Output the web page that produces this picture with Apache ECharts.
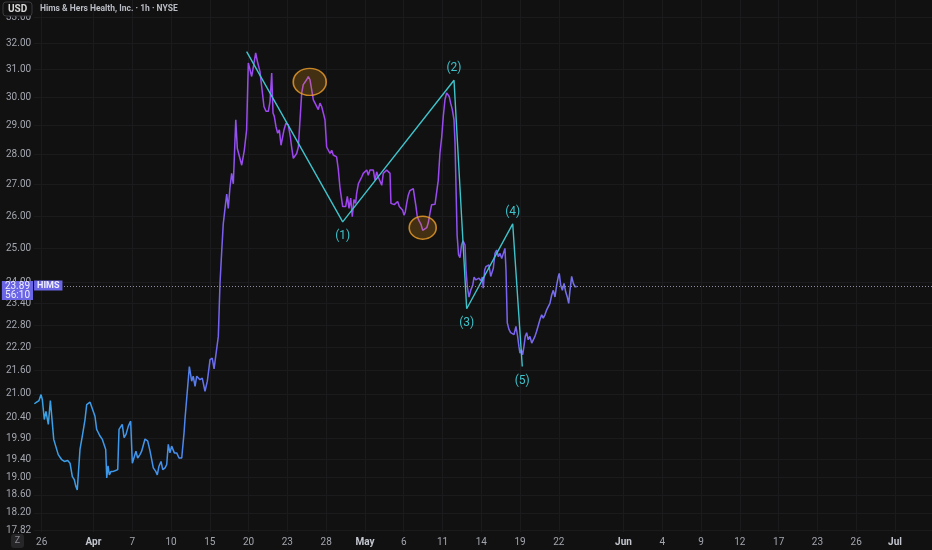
<!DOCTYPE html>
<html>
<head>
<meta charset="utf-8">
<script src="https://cdn.jsdelivr.net/npm/echarts@6/dist/echarts.min.js"></script>
<style>
html,body{margin:0;padding:0;background:#111111;}
#chart{width:932px;height:550px;}
</style>
</head>
<body>
<div id="chart"></div>
<script>
// ---- data ----
const xLabelIdx = [0,4,7,10,13,16,19,22,25,28,31,34,37,40,45,48,51,54,57,60,63,66];
const xLabelText = ['26','Apr','7','10','15','20','23','28','May','6','11','14','19','22','Jun','4','9','12','17','23','26','Jul'];
const yTicks = [33,32,31,30,29,28,27,26,25,24,23.4,22.8,22.2,21.6,21,20.4,19.9,19.4,19,18.6,18.2,17.82];

const priceX = [-0.57,-0.39,-0.21,-0.05,0.05,0.20,0.33,0.43,0.51,0.67,0.82,0.93,1.08,1.28,1.55,1.75,2.01,2.19,2.37,2.52,2.63,2.75,2.83,2.96,3.14,3.35,3.48,3.74,3.87,4.12,4.25,4.38,4.51,4.69,4.84,4.95,5.03,5.13,5.23,5.36,5.54,5.72,5.88,5.98,6.11,6.23,6.37,6.52,6.70,6.88,7.01,7.16,7.29,7.42,7.60,7.73,7.86,7.99,8.20,8.38,8.63,8.82,8.94,9.07,9.23,9.36,9.54,9.67,9.79,9.92,10.05,10.15,10.26,10.44,10.62,10.83,11.01,11.08,11.42,11.60,11.72,11.86,11.99,12.24,12.42,12.63,12.81,13.02,13.19,13.33,13.48,13.66,13.79,13.92,14.04,14.18,14.31,14.43,14.56,14.69,14.82,14.90,15.01,15.13,15.26,15.47,15.67,15.85,15.98,16.11,16.24,16.42,16.55,16.71,16.88,17.01,17.19,17.35,17.53,17.66,17.79,17.89,17.99,18.12,18.25,18.38,18.51,18.61,18.74,18.89,19.07,19.23,19.33,19.46,19.59,19.72,19.85,19.98,20.11,20.23,20.36,20.49,20.62,20.75,20.88,21.01,21.14,21.27,21.39,21.52,21.65,21.78,21.91,22.04,22.17,22.30,22.43,22.55,22.68,22.81,22.94,23.07,23.20,23.28,23.38,23.51,23.64,23.77,23.90,24.02,24.15,24.28,24.36,24.49,24.62,24.75,24.87,25.00,25.14,25.26,25.39,25.52,25.65,25.78,25.91,26.03,26.16,26.30,26.42,26.55,26.68,26.81,26.94,27.01,27.15,27.27,27.40,27.53,27.66,27.79,27.92,28.02,28.12,28.23,28.35,28.48,28.62,28.74,28.87,28.95,29.05,29.20,29.34,29.47,29.62,29.78,29.90,30.03,30.16,30.29,30.42,30.55,30.67,30.80,30.94,31.06,31.19,31.32,31.45,31.52,31.63,31.76,31.89,31.97,32.05,32.13,32.24,32.35,32.47,32.59,32.74,32.82,32.92,33.05,33.18,33.34,33.44,33.57,33.69,33.82,33.95,34.08,34.15,34.26,34.36,34.46,34.59,34.73,34.85,34.93,35.06,35.19,35.32,35.45,35.58,35.70,35.83,35.91,36.01,36.14,36.27,36.40,36.53,36.68,36.81,36.91,36.99,37.09,37.20,37.30,37.40,37.51,37.63,37.76,37.90,38.02,38.15,38.28,38.41,38.54,38.67,38.79,38.92,39.06,39.18,39.31,39.44,39.57,39.70,39.83,39.96,40.03,40.14,40.27,40.40,40.53,40.65,40.76,40.86,40.99,41.12,41.25,41.38];
const priceY = [20.75,20.79,20.83,20.98,20.85,20.36,20.56,20.60,20.24,20.83,20.83,19.88,19.85,19.52,19.40,19.36,19.38,19.32,19.01,18.94,18.80,18.71,18.75,19.64,19.96,20.36,20.73,20.79,20.78,20.44,20.12,20.04,19.96,19.88,19.84,19.64,18.98,19.26,19.05,19.13,19.13,19.15,19.17,20.12,20.12,20.24,19.92,20.00,20.20,20.32,19.32,19.31,19.60,19.44,19.52,19.60,19.64,19.89,19.84,19.60,19.21,19.13,19.05,19.25,19.36,19.17,19.21,19.29,19.76,19.56,19.72,19.76,19.56,19.56,19.44,19.44,20.04,20.36,21.70,21.32,21.45,21.19,21.45,21.36,21.40,21.06,21.32,21.88,21.92,21.64,21.64,22.50,23.98,24.90,25.75,26.25,26.70,26.24,26.90,27.37,27.03,27.92,29.19,28.20,28.25,27.64,28.14,28.84,31.25,31.00,30.75,31.25,31.63,31.25,30.94,30.39,29.66,29.49,29.49,29.84,30.88,29.43,29.31,28.95,28.72,28.84,28.31,28.25,28.84,29.07,29.01,28.60,28.25,27.87,27.87,28.03,28.25,29.19,30.15,30.45,30.51,30.63,30.75,30.63,30.57,29.90,29.78,29.72,29.55,29.78,29.66,29.43,29.19,28.25,28.14,28.03,28.14,27.98,28.03,27.92,27.50,26.90,26.52,26.30,26.36,26.30,26.62,26.24,26.57,25.98,26.52,26.40,26.72,27.03,27.14,27.25,27.37,27.42,27.48,27.31,27.48,27.50,27.48,27.14,27.42,27.25,27.25,26.98,27.37,27.42,27.48,27.42,27.37,26.40,26.46,26.36,26.40,26.46,26.30,26.36,26.18,26.03,26.13,26.40,26.66,26.81,26.87,26.87,26.81,26.30,25.98,25.84,25.74,25.56,25.56,25.64,25.79,26.09,26.36,26.37,26.37,26.40,27.14,28.03,28.60,29.31,29.90,30.15,30.21,30.02,29.78,29.55,29.19,28.37,26.81,25.41,24.82,24.73,25.11,25.24,25.11,24.37,23.88,23.59,23.78,23.93,24.16,24.08,24.10,24.13,24.06,24.16,23.84,24.37,24.47,24.42,24.52,24.18,24.23,24.42,24.86,24.96,24.76,24.86,24.71,24.76,25.01,24.37,22.87,22.69,22.60,22.64,22.55,22.77,22.50,22.23,22.05,22.14,22.01,22.23,22.50,22.60,22.41,22.50,22.32,22.37,22.50,22.64,22.60,22.96,23.09,23.00,23.09,23.23,23.32,23.41,23.64,23.78,23.59,23.93,24.18,24.27,23.93,23.78,23.98,23.73,23.59,23.41,23.78,24.18,23.98,23.88,23.89];

const patternX = [15.85, 23.28, 31.89, 32.87, 36.43, 37.17];
const patternY = [31.68, 25.82, 30.61, 23.26, 25.76, 21.70];
const patternLabels = ['', '(1)', '(2)', '(3)', '(4)', '(5)'];
const patternLabelSide = ['top', 'bottom', 'top', 'bottom', 'top', 'bottom'];

const highlightX = [20.73, 29.47];
const highlightY = [30.55, 25.64];

const lastPrice = 23.89;
const lastTime = '56:10';
const ticker = 'HIMS';
const titleText = 'Hims & Hers Health, Inc. · 1h · NYSE';
const currency = 'USD';

// ---- layout constants ----
const Y_MIN = 17.786, Y_MAX = 33.71;
const X_MIN = -0.596, X_MAX = 68.86;
const FONT = 'Roboto, "Noto Sans", sans-serif';
const LABEL_COLOR = '#a3a6af';
const GRID_COLOR = '#1b1b1d';
const TAG_BG = '#6b66e6';

const chart = echarts.init(document.getElementById('chart'), null, {renderer: 'canvas'});

const priceData = priceX.map((x, i) => [x, priceY[i]]);
const patternData = patternX.map((x, i) => ({
  value: [x, patternY[i]],
  label: {show: !!patternLabels[i], formatter: patternLabels[i], position: patternLabelSide[i],
          distance: patternLabelSide[i] === 'bottom' ? 8 : 6}
}));
const highlightSizes = [[33, 27], [27, 23]];
const highlightData = highlightX.map((x, i) => ({value: [x, highlightY[i]], symbolSize: highlightSizes[i]}));

const lnTicks = yTicks.map(v => Math.log(v));

const option = {
  backgroundColor: '#111111',
  animation: false,
  textStyle: {fontFamily: FONT},
  grid: {left: 34, right: 0, top: 0, bottom: 18, containLabel: false},
  xAxis: {
    type: 'value', min: X_MIN, max: X_MAX,
    axisLine: {show: false},
    axisTick: {show: false, customValues: xLabelIdx},
    splitLine: {show: true, lineStyle: {color: GRID_COLOR, width: 1}},
    axisLabel: {
      customValues: xLabelIdx,
      margin: 5,
      color: LABEL_COLOR, fontSize: 10, fontFamily: FONT,
      formatter: v => {
        const t = xLabelText[xLabelIdx.indexOf(v)];
        return /^\d+$/.test(t) ? t : '{b|' + t + '}';
      },
      rich: {b: {fontWeight: 'bold', color: '#c3c6cf', fontSize: 10, fontFamily: FONT}}
    }
  },
  yAxis: [
    {
      type: 'log', min: Y_MIN, max: Y_MAX, logBase: 10,
      show: false,
      splitLine: {show: false}
    },
    {
      type: 'value', position: 'left',
      min: Math.log(Y_MIN), max: Math.log(Y_MAX),
      axisLine: {show: false},
      axisTick: {show: false, customValues: lnTicks},
      splitLine: {show: true, lineStyle: {color: GRID_COLOR, width: 1}},
      axisLabel: {
        customValues: lnTicks,
        align: 'left', margin: 28,
        color: LABEL_COLOR, fontSize: 10, fontFamily: FONT,
        formatter: v => Math.exp(v).toFixed(2)
      }
    }
  ],
  series: [
    {
      name: 'HIMS', type: 'line', xAxisIndex: 0, yAxisIndex: 0,
      data: priceData, showSymbol: false, symbol: 'none', z: 3,
      lineStyle: {
        width: 1.5,
        color: new echarts.graphic.LinearGradient(0, 0, 1, 0, [
          {offset: 0, color: '#38a2e6'},
          {offset: 0.26, color: '#4490ee'},
          {offset: 0.33, color: '#6a6cf0'},
          {offset: 0.38, color: '#9a4cf0'},
          {offset: 0.55, color: '#a043ef'},
          {offset: 0.75, color: '#9a4bf0'},
          {offset: 0.81, color: '#7f5df0'},
          {offset: 1, color: '#7272ee'}
        ])
      },
      markLine: {
        silent: true, symbol: 'none', animation: false,
        data: [
          {
            yAxis: lastPrice,
            lineStyle: {type: [1, 2], color: '#8e8ea0', width: 1},
            label: {
              show: true, position: 'start', distance: 1,
              formatter: lastPrice.toFixed(2) + '\n' + lastTime,
              backgroundColor: TAG_BG, color: '#eeeeff',
              fontSize: 10, lineHeight: 9, padding: [1, 3, 0, 3],
              fontFamily: FONT, offset: [0, 4]
            }
          }
        ]
      }
    },
    {
      name: 'tag', type: 'line', xAxisIndex: 0, yAxisIndex: 0,
      data: [[X_MIN, lastPrice]], symbol: 'circle', symbolSize: 0.1, z: 6,
      itemStyle: {color: 'rgba(0,0,0,0)'},
      lineStyle: {width: 0},
      label: {
        show: true, position: 'right', distance: 0, formatter: ticker,
        backgroundColor: TAG_BG, color: '#eeeeff', fontWeight: 'bold',
        fontSize: 9, padding: [1, 3, 0, 3], fontFamily: FONT, offset: [0, -1]
      }
    },
    {
      name: 'pattern', type: 'line', xAxisIndex: 0, yAxisIndex: 0,
      data: patternData, symbol: 'circle', symbolSize: 0.1, z: 4,
      itemStyle: {color: 'rgba(0,0,0,0)'},
      lineStyle: {width: 1.4, color: '#3fc3cb'},
      label: {show: true, color: '#3fc3cb', fontSize: 12, fontFamily: FONT}
    },
    {
      name: 'highlight', type: 'scatter', xAxisIndex: 0, yAxisIndex: 0,
      data: highlightData, symbol: 'circle', z: 5,
      itemStyle: {color: 'rgba(240,150,20,0.28)', borderColor: '#f0a02a', borderWidth: 1.5}
    }
  ],
  graphic: [
    {type: 'rect', z: 100, shape: {x: 0, y: 0, width: 34, height: 16}, style: {fill: '#111111'}},
    {type: 'rect', z: 101, shape: {x: 3, y: 2, width: 29, height: 14, r: 3}, style: {fill: '#111111', stroke: '#3a3a3e', lineWidth: 1}},
    {type: 'text', z: 102, style: {x: 17.5, y: 9, text: currency, fill: '#d6d6d6', font: 'bold 10px ' + FONT, align: 'center', verticalAlign: 'middle'}},
    {type: 'text', z: 102, style: {x: 40, y: 9, text: titleText, fill: '#b9bcc4', font: 'bold 8.5px ' + FONT, align: 'left', verticalAlign: 'middle'}},
    {type: 'rect', z: 101, shape: {x: 11, y: 534, width: 13, height: 14, r: 3}, style: {fill: '#262629'}},
    {type: 'text', z: 102, style: {x: 17.5, y: 541, text: 'Z', fill: '#8a8a90', font: '9px ' + FONT, align: 'center', verticalAlign: 'middle'}}
  ]
};
chart.setOption(option);
</script>
</body>
</html>
